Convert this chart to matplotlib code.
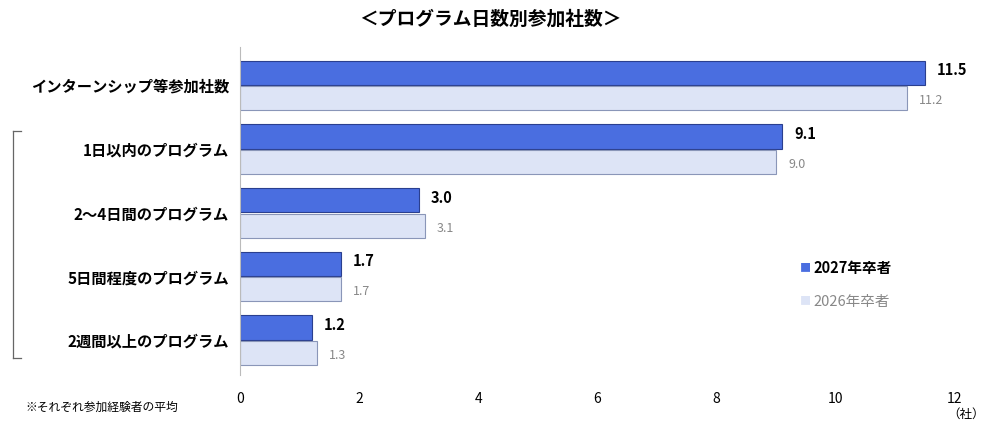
import numpy as np
import matplotlib
matplotlib.use('Agg')
import matplotlib.pyplot as plt
from matplotlib.lines import Line2D

plt.rcParams['font.family'] = ['Noto Sans CJK JP', 'DejaVu Sans']

categories = ['インターンシップ等参加社数', '1日以内のプログラム', '2〜4日間のプログラム',
              '5日間程度のプログラム', '2週間以上のプログラム']
v2027 = [11.5, 9.1, 3.0, 1.7, 1.2]
v2026 = [11.2, 9.0, 3.1, 1.7, 1.3]

BLUE = '#4a6ee0'
LIGHT = '#dde4f6'

fig = plt.figure(figsize=(10, 4.29), dpi=100)
ax = fig.add_axes([0.24, 0.125, 0.715, 0.765])

y = np.arange(len(categories))
h = 0.38
ax.barh(y - h / 2 - 0.01, v2027, height=h, color=BLUE, edgecolor='#2a3f8f', linewidth=0.8)
ax.barh(y + h / 2 + 0.01, v2026, height=h, color=LIGHT, edgecolor='#8a96b8', linewidth=0.8)
for yi, a, b in zip(y, v2027, v2026):
    ax.text(a + 0.2, yi - h / 2 - 0.05, f'{a:.1f}', va='center', fontsize=10.5, fontweight='bold')
    ax.text(b + 0.2, yi + h / 2 + 0.05, f'{b:.1f}', va='center', fontsize=9, color='#888888')

ax.set_xlim(0, 12)
ax.set_ylim(4.55, -0.6)
ax.set_xticks(range(0, 13, 2))
ax.set_yticks(y)
ax.set_yticklabels(categories, fontsize=11, fontweight='bold')
ax.tick_params(axis='both', length=0, pad=8)
ax.tick_params(axis='x', labelsize=10, pad=12)
for s in ['top', 'right', 'bottom']:
    ax.spines[s].set_visible(False)
ax.spines['left'].set_color('#bbbbbb')

fig.text(0.49, 0.955, '＜プログラム日数別参加社数＞', ha='center', va='center',
         fontsize=13.5, fontweight='bold')
fig.text(0.985, 0.035, '（社）', ha='right', va='center', fontsize=9)
fig.text(0.025, 0.05, '※それぞれ参加経験者の平均', ha='left', va='center', fontsize=8.5)

# legend
fig.text(0.80, 0.375, '■', color=BLUE, fontsize=8, va='center')
fig.text(0.813, 0.375, '2027年卒者', fontsize=10.5, fontweight='bold', va='center')
fig.text(0.80, 0.297, '■', color=LIGHT, fontsize=8, va='center')
fig.text(0.813, 0.297, '2026年卒者', fontsize=10.5, color='#888888', va='center')

# bracket
xb = 0.013
fig.add_artist(Line2D([xb, xb], [0.695, 0.165], color='#666666', lw=0.9))
fig.add_artist(Line2D([xb, xb + 0.008], [0.695, 0.695], color='#666666', lw=0.9))
fig.add_artist(Line2D([xb, xb + 0.008], [0.165, 0.165], color='#666666', lw=0.9))

fig.savefig('out.png', dpi=100, facecolor='white')
